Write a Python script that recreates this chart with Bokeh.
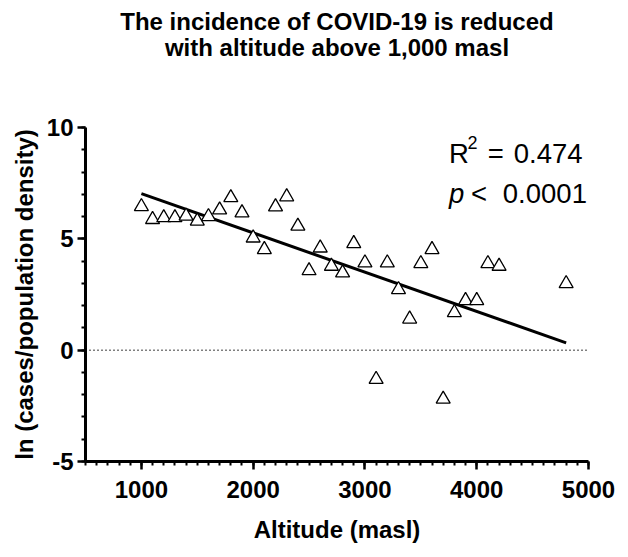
from bokeh.plotting import figure
from bokeh.models import Range1d, FixedTicker, Span, Label, ColumnDataSource, Title
from bokeh.embed import file_html
from bokeh.resources import INLINE

# ---- data ----
altitude = [1000, 1100, 1200, 1300, 1400, 1500, 1600, 1700, 1800, 1900,
            2000, 2100, 2200, 2300, 2400, 2500, 2600, 2700, 2800, 2900,
            3000, 3100, 3200, 3300, 3400, 3500, 3600, 3700, 3800, 3900,
            4000, 4100, 4200, 4800]
ln_incidence = [6.45, 5.87, 5.95, 5.95, 6.02, 5.80, 6.00, 6.30, 6.85, 6.17,
                5.04, 4.52, 6.44, 6.89, 5.57, 3.57, 4.59, 3.77, 3.47, 4.79,
                3.92, -1.31, 3.92, 2.72, 1.40, 3.89, 4.52, -2.20, 1.69, 2.23,
                2.23, 3.89, 3.77, 2.99]
fit_x = [1000, 4800]
fit_y = [7.03, 0.33]
x_major = [1000, 2000, 3000, 4000, 5000]
x_minor = list(range(500, 5001, 100))
y_major = [-5, 0, 5, 10]
y_minor = list(range(-5, 11, 1))
y_labels = ["-5", "0", "5", "10"]
title_lines = ["The incidence of COVID-19 is reduced", "with altitude above 1,000 masl"]
r2_value = "0.474"
p_value = "0.0001"

FONT = "Liberation Sans"

p = figure(width=620, height=548, output_backend="svg", toolbar_location=None,
           x_range=Range1d(500, 5000), y_range=Range1d(-5, 10), title=None,
           min_border_left=85, min_border_right=32, min_border_top=127, min_border_bottom=87)
p.outline_line_color = None
p.xgrid.visible = False
p.ygrid.visible = False

# titles: spacer (closest to frame), second line, first line (outermost)
spacer = Title(text=" ", text_font=FONT, text_font_size="10px", standoff=57)
p.add_layout(spacer, "above")
t2 = Title(text=title_lines[1], align="center", text_font=FONT, text_font_size="24px",
           text_font_style="bold", text_color="black", standoff=-6)
p.add_layout(t2, "above")
t1 = Title(text=title_lines[0], align="center", text_font=FONT, text_font_size="24px",
           text_font_style="bold", text_color="black", standoff=0)
p.add_layout(t1, "above")

for ax in (p.xaxis[0], p.yaxis[0]):
    ax.axis_line_width = 3
    ax.major_tick_line_width = 2.5
    ax.minor_tick_line_width = 2
    ax.major_tick_out = 8
    ax.major_tick_in = 0
    ax.minor_tick_out = 4
    ax.minor_tick_in = 0
    ax.major_label_text_font = FONT
    ax.major_label_text_font_size = "24px"
    ax.major_label_text_font_style = "bold"
    ax.major_label_text_color = "black"
    ax.axis_label_text_font = FONT
    ax.axis_label_text_font_size = "24px"
    ax.axis_label_text_font_style = "bold"
    ax.axis_label_text_color = "black"

p.xaxis[0].ticker = FixedTicker(ticks=x_major, minor_ticks=x_minor)
p.yaxis[0].ticker = FixedTicker(ticks=y_major, minor_ticks=y_minor)
p.yaxis[0].major_label_overrides = dict(zip(y_major, y_labels))
p.xaxis[0].axis_label = "Altitude (masl)"
p.yaxis[0].axis_label = "ln (cases/population density)"
p.xaxis[0].major_label_standoff = 11
p.xaxis[0].axis_label_standoff = 15
p.yaxis[0].major_label_standoff = 4
p.yaxis[0].axis_label_standoff = 6

p.add_layout(Span(location=0, dimension="width", line_color="black",
                  line_width=1.5, line_dash="1 3"))

p.line(fit_x, fit_y, line_color="black", line_width=3)

src = ColumnDataSource(dict(x=altitude, y=ln_incidence))
p.scatter("x", "y", source=src, marker="triangle", size=14,
          fill_color="white", line_color="black", line_width=1.3)

# statistics annotation
ax_x, l1_y, l2_y = 3753, 8.85, 7.02
NUM = "27.5px"
def lab(y, dx, text, size=NUM, dy=0, style="normal"):
    p.add_layout(Label(x=ax_x, y=y, x_offset=dx, y_offset=dy, text=text, text_font=FONT,
                       text_font_size=size, text_font_style=style,
                       text_color="black", text_baseline="alphabetic"))

lab(l1_y, 0, "R")
lab(l1_y, 18.5, "2", size="18px", dy=11)
lab(l1_y, 38.7, "=")
lab(l1_y, 64.7, r2_value)
lab(l2_y, 0, "p", style="italic")
lab(l2_y, 22, "<")
lab(l2_y, 53.7, p_value)

open("out.html", "w").write(file_html(p, INLINE))
